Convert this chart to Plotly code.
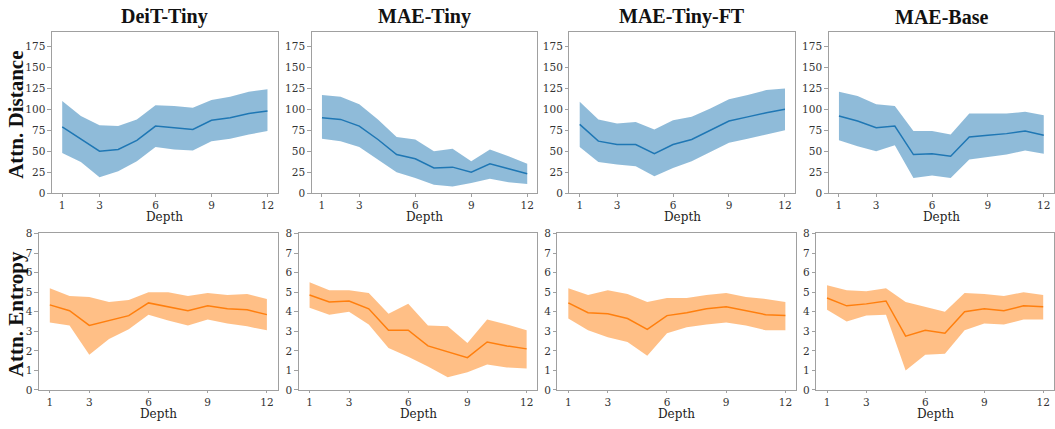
import plotly.graph_objects as go

depth = list(range(1, 13))
titles = ["DeiT-Tiny", "MAE-Tiny", "MAE-Tiny-FT", "MAE-Base"]
x_ticks = [1, 3, 6, 9, 12]
dist_ticks = [0, 25, 50, 75, 100, 125, 150, 175]
ent_ticks = [0, 1, 2, 3, 4, 5, 6, 7, 8]

# Attention distance (mean, upper, lower)
deit_dist_mean = [79, 64, 50, 52, 63, 80, 78, 76, 87, 90, 95, 98]
deit_dist_up = [110, 92, 81, 80, 88, 105, 104, 102, 111, 115, 121, 124]
deit_dist_lo = [48, 37, 19, 26, 38, 55, 52, 51, 62, 65, 70, 74]

maet_dist_mean = [90, 88, 80, 64, 46, 41, 30, 31, 25, 35, 29, 23]
maet_dist_up = [117, 115, 106, 88, 67, 64, 50, 53, 38, 52, 44, 35]
maet_dist_lo = [65, 62, 55, 40, 25, 18, 10, 8, 12, 17, 13, 11]

maeft_dist_mean = [82, 62, 58, 58, 47, 58, 64, 75, 86, 91, 96, 100]
maeft_dist_up = [109, 88, 83, 85, 76, 87, 91, 101, 112, 117, 123, 125]
maeft_dist_lo = [55, 37, 34, 32, 20, 30, 38, 49, 60, 65, 70, 75]

maeb_dist_mean = [92, 86, 78, 80, 46, 47, 44, 67, 69, 71, 74, 69]
maeb_dist_up = [121, 116, 106, 104, 74, 74, 70, 95, 95, 95, 97, 93]
maeb_dist_lo = [63, 56, 50, 57, 18, 21, 18, 40, 43, 46, 51, 47]

# Attention entropy (mean, upper, lower)
deit_ent_mean = [4.35, 4.05, 3.3, 3.55, 3.8, 4.45, 4.25, 4.05, 4.3, 4.15, 4.1, 3.85]
deit_ent_up = [5.2, 4.8, 4.75, 4.5, 4.6, 5.0, 5.0, 4.8, 4.95, 4.85, 4.9, 4.65]
deit_ent_lo = [3.45, 3.3, 1.8, 2.6, 3.1, 3.85, 3.55, 3.3, 3.6, 3.4, 3.25, 3.05]

maet_ent_mean = [4.85, 4.5, 4.55, 4.15, 3.05, 3.05, 2.25, 1.95, 1.65, 2.45, 2.25, 2.1]
maet_ent_up = [5.5, 5.1, 5.1, 4.95, 3.9, 4.4, 3.3, 3.25, 2.4, 3.6, 3.35, 3.05]
maet_ent_lo = [4.2, 3.85, 4.0, 3.35, 2.15, 1.7, 1.2, 0.65, 0.9, 1.3, 1.15, 1.1]

maeft_ent_mean = [4.45, 3.95, 3.9, 3.65, 3.1, 3.8, 3.95, 4.15, 4.25, 4.05, 3.85, 3.8]
maeft_ent_up = [5.2, 4.85, 5.1, 4.9, 4.5, 4.7, 4.7, 4.85, 4.95, 4.75, 4.65, 4.5]
maeft_ent_lo = [3.65, 3.05, 2.7, 2.45, 1.75, 2.9, 3.2, 3.35, 3.45, 3.3, 3.05, 3.05]

maeb_ent_mean = [4.7, 4.3, 4.4, 4.55, 2.75, 3.05, 2.9, 4.0, 4.15, 4.05, 4.3, 4.25]
maeb_ent_up = [5.35, 5.1, 5.05, 5.2, 4.5, 4.25, 4.0, 4.95, 4.9, 4.8, 5.0, 4.85]
maeb_ent_lo = [4.1, 3.5, 3.8, 3.85, 1.0, 1.8, 1.85, 3.05, 3.4, 3.35, 3.6, 3.6]

dist_series = [
    (deit_dist_mean, deit_dist_up, deit_dist_lo),
    (maet_dist_mean, maet_dist_up, maet_dist_lo),
    (maeft_dist_mean, maeft_dist_up, maeft_dist_lo),
    (maeb_dist_mean, maeb_dist_up, maeb_dist_lo),
]
ent_series = [
    (deit_ent_mean, deit_ent_up, deit_ent_lo),
    (maet_ent_mean, maet_ent_up, maet_ent_lo),
    (maeft_ent_mean, maeft_ent_up, maeft_ent_lo),
    (maeb_ent_mean, maeb_ent_up, maeb_ent_lo),
]

W, H = 1055, 429
top_x = [(52, 278), (312, 538), (570, 796), (829.5, 1055.5)]
bot_x = [(39, 278), (299, 538), (558, 797), (817, 1056)]
top_y = (27, 192.5)
bot_y = (234, 395)

BLUE = "#1f77b4"
BLUE_FILL = "rgba(31,119,180,0.5)"
ORANGE = "#ff7f0e"
ORANGE_FILL = "rgba(255,127,14,0.5)"
TICKFONT = dict(family="DejaVu Serif", size=10.5, color="#333333")
SPINE = "#a0a0a0"

fig = go.Figure()
layout = {}
annotations = []


def px_dom_x(a, b):
    return [max(0.0, a / W), min(1.0, b / W)]


def px_dom_y(a, b):
    return [1 - b / H, 1 - a / H]


def add_panel(idx, series, xdom_px, ydom_px, line_c, fill_c, yr, yticks):
    n = idx + 1
    xa = "x" if n == 1 else f"x{n}"
    ya = "y" if n == 1 else f"y{n}"
    mean, up, lo = series
    fig.add_trace(go.Scatter(x=depth, y=lo, mode="lines", line=dict(width=0, color=fill_c),
                             showlegend=False, hoverinfo="skip", xaxis=xa, yaxis=ya))
    fig.add_trace(go.Scatter(x=depth, y=up, mode="lines", line=dict(width=0, color=fill_c),
                             fill="tonexty", fillcolor=fill_c, showlegend=False,
                             hoverinfo="skip", xaxis=xa, yaxis=ya))
    fig.add_trace(go.Scatter(x=depth, y=mean, mode="lines", line=dict(width=1.5, color=line_c),
                             showlegend=False, xaxis=xa, yaxis=ya))
    xkey = "xaxis" if n == 1 else f"xaxis{n}"
    ykey = "yaxis" if n == 1 else f"yaxis{n}"
    layout[xkey] = dict(domain=px_dom_x(*xdom_px), anchor=ya, range=[0.45, 12.55],
                        tickvals=x_ticks, ticks="outside", ticklen=2.5, tickcolor=SPINE,
                        showline=True, mirror=True, linecolor=SPINE, linewidth=1,
                        showgrid=False, zeroline=False, tickfont=TICKFONT, fixedrange=True)
    layout[ykey] = dict(domain=px_dom_y(*ydom_px), anchor=xa, range=yr,
                        tickvals=yticks, ticks="outside", ticklen=3.5, tickcolor=SPINE,
                        showline=True, mirror=True, linecolor=SPINE, linewidth=1,
                        showgrid=False, zeroline=False, tickfont=TICKFONT, fixedrange=True)
    # Depth label
    xc = (xdom_px[0] + xdom_px[1]) / 2
    yc = ydom_px[1] + 24.5
    annotations.append(dict(text="Depth", x=xc / W, y=1 - yc / H, xref="paper", yref="paper",
                            showarrow=False, xanchor="center", yanchor="middle", borderpad=0,
                            font=dict(family="DejaVu Serif", size=12, color="#222222")))


for i in range(4):
    add_panel(i, dist_series[i], top_x[i], top_y, BLUE, BLUE_FILL, [0, 192], dist_ticks)
for i in range(4):
    add_panel(i + 4, ent_series[i], bot_x[i], bot_y, ORANGE, ORANGE_FILL, [0, 8], ent_ticks)

for i, t in enumerate(titles):
    xc = (top_x[i][0] + top_x[i][1]) / 2
    annotations.append(dict(text=f"<b>{t}</b>", x=xc / W, y=1 - 11 / H, xref="paper", yref="paper",
                            showarrow=False, xanchor="center", yanchor="middle",
                            font=dict(family="Liberation Serif", size=20, color="#111111")))

annotations.append(dict(text="<b>Attn. Distance</b>", x=16 / W, y=1 - 112 / H, xref="paper",
                        yref="paper", showarrow=False, textangle=-90, xanchor="center",
                        yanchor="middle", font=dict(family="Liberation Serif", size=21, color="#111111")))
annotations.append(dict(text="<b>Attn. Entropy</b>", x=16 / W, y=1 - 317 / H, xref="paper",
                        yref="paper", showarrow=False, textangle=-90, xanchor="center",
                        yanchor="middle", font=dict(family="Liberation Serif", size=21, color="#111111")))

fig.update_layout(width=W, height=H, margin=dict(l=0, r=0, t=0, b=0),
                  paper_bgcolor="white", plot_bgcolor="white", showlegend=False,
                  annotations=annotations, **layout)
fig.write_html("out.html", config={"displayModeBar": False})
